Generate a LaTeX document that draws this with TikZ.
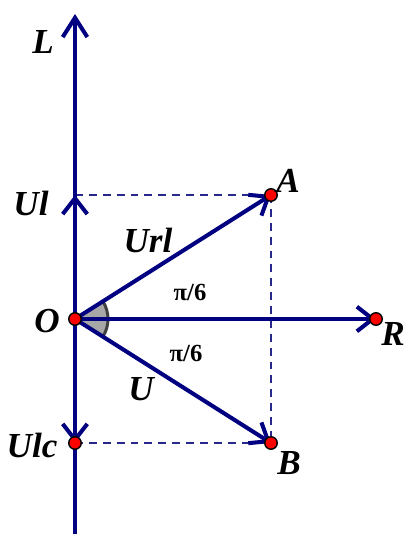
\documentclass[tikz,border=0pt]{standalone}
\usepackage{fontspec}
\setmainfont{Liberation Serif}
\usepackage{xcolor}
\definecolor{vecnavy}{RGB}{0,0,128}
\definecolor{dashnavy}{RGB}{40,40,140}
\definecolor{dotred}{RGB}{255,0,0}
\definecolor{anglegray}{RGB}{64,64,64}
\usepackage{tikz}
\usetikzlibrary{arrows.meta, calc}
\tikzset{
  vecline/.style={vecnavy, line width=2.3pt, -{Straight Barb[length=9pt, width=14pt]}},
  projline/.style={dashnavy, line width=0.8pt, dash pattern=on 4.5pt off 3.4pt},
  ptdot/.style={circle, fill=dotred, draw=black, line width=0.8pt, inner sep=0pt, minimum size=0.25cm},
  vlabel/.style={font=\fontsize{20}{22}\selectfont\bfseries\itshape},
  alabel/.style={font=\fontsize{14}{16}\selectfont\bfseries}
}

\begin{document}
\begin{tikzpicture}
  \useasboundingbox (0,0) rectangle (8.12,10.68);
  \clip (0,0) rectangle (8.12,10.68);

  % Points
  \coordinate (O)   at (1.5,4.3);
  \coordinate (A)   at (5.42,6.78);
  \coordinate (B)   at (5.42,1.82);
  \coordinate (R)   at (7.52,4.3);
  \coordinate (Ul)  at (1.5,6.78);
  \coordinate (Ulc) at (1.5,1.82);
  \coordinate (top) at (1.5,10.4);
  \coordinate (bot) at (1.5,-0.1);

  % Angle marks
  \fill[gray!85!black, opacity=0.6] (O) -- ++(-32:0.66) arc[start angle=-32, end angle=32, radius=0.66] -- cycle;
  \draw[anglegray, line width=1.7pt] (O) ++(-32:0.66) arc[start angle=-32, end angle=32, radius=0.66];

  % Projections
  \draw[projline] (Ul) -- (A);
  \draw[projline] (Ulc) -- (B);
  \draw[projline] (A) -- (B);

  % Axes
  \draw[vecline, -{Straight Barb[length=11pt, width=14pt]}] (bot) -- (top);
  \draw[vecline] (O) -- (R);

  % Vectors
  \draw[vecline] (O) -- (Ul);
  \draw[vecline] (O) -- (Ulc);
  \draw[vecline] (O) -- (A);
  \draw[vecline] (O) -- (B);

  % Dots
  \node[ptdot] (dO)   at (O)   {};
  \node[ptdot] (dA)   at (A)   {};
  \node[ptdot] (dB)   at (B)   {};
  \node[ptdot] (dR)   at (R)   {};
  \node[ptdot] (dUlc) at (Ulc) {};

  % Labels
  \node[vlabel] (lL)   at (0.86,9.84) {L};
  \node[vlabel] (lUl)  at (0.62,6.62) {Ul};
  \node[vlabel] (lUrl) at (2.96,5.88) {Url};
  \node[vlabel] (lU)   at (2.82,2.9)  {U};
  \node[vlabel] (lO)   at (0.94,4.26) {O};
  \node[vlabel] (lUlc) at (0.64,1.78) {Ulc};
  \node[vlabel] (lA)   at (5.76,7.06) {A};
  \node[vlabel] (lB)   at (5.78,1.42) {B};
  \node[vlabel] (lR)   at (7.86,4.0)  {R};
  \node[alabel] (lpa)  at (3.8,4.84)  {π/6};
  \node[alabel] (lpb)  at (3.72,3.62) {π/6};
\end{tikzpicture}
\end{document}
